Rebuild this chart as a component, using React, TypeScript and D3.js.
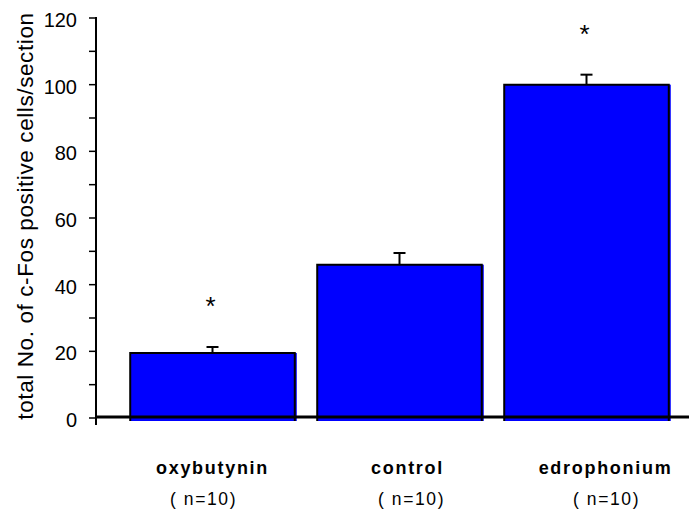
import React, { useEffect, useRef } from 'react';
import * as d3 from 'd3';

const categories = ['oxybutynin', 'control', 'edrophonium'];
const sampleSizes = ['( n=10)', '( n=10)', '( n=10)'];
const means = [19.5, 46, 100];
const errors = [1.8, 3.5, 3];
const significant = [true, false, true];
const yTicks = [0, 20, 40, 60, 80, 100, 120];

/* Draws the c-Fos bar chart */
function BarChart() {
    const svgRef = useRef<SVGSVGElement>(null);
    const width = 689;
    const height = 514;

    useEffect(() => {
        const svg = d3.select(svgRef.current);
        svg.selectAll('*').remove();

        const font = 'Arial, "Liberation Sans", sans-serif';
        const axisX = 96;
        // category labels are not centred exactly under the bars in the original
        const labelShift = [0, 8, 19];
        const countShift = [-9, 12, 20];

        const y = d3.scaleLinear().domain([0, 120]).range([418, 18]);
        const x = d3.scaleBand<string>()
            .domain(categories)
            .range([119, 680])
            .paddingInner(0.12)
            .paddingOuter(0.06);

        // Bars
        const bars = svg.append('g');
        categories.forEach((c, i) => {
            const x0 = x(c)!;
            const w = x.bandwidth();
            const top = y(means[i]);
            bars.append('rect')
                .attr('x', x0)
                .attr('y', top)
                .attr('width', w + 2)
                .attr('height', 421 - top)
                .attr('fill', '#0000ff');
            // outline on left, top, right
            bars.append('path')
                .attr('d', `M${x0},421V${top}H${x0 + w}V421`)
                .attr('fill', 'none')
                .attr('stroke', '#000')
                .attr('stroke-width', 2);

            // error bar
            const cx = x0 + w / 2;
            const eTop = y(means[i] + errors[i]);
            bars.append('line')
                .attr('x1', cx).attr('x2', cx)
                .attr('y1', top).attr('y2', eTop)
                .attr('stroke', '#000').attr('stroke-width', 2);
            bars.append('line')
                .attr('x1', cx - 6).attr('x2', cx + 6)
                .attr('y1', eTop).attr('y2', eTop)
                .attr('stroke', '#000').attr('stroke-width', 2);

            if (significant[i]) {
                svg.append('text')
                    .attr('x', cx - 2)
                    .attr('y', eTop - 32)
                    .attr('text-anchor', 'middle')
                    .style('font-family', font)
                    .style('font-size', '26px')
                    .style('fill', '#000')
                    .text('*');
            }

            svg.append('text')
                .attr('x', cx + labelShift[i])
                .attr('y', 474)
                .attr('text-anchor', 'middle')
                .style('font-family', font)
                .style('font-weight', 'bold')
                .style('font-size', '18px')
                .style('letter-spacing', '1.7px')
                .text(c);
            svg.append('text')
                .attr('x', cx + countShift[i])
                .attr('y', 505)
                .attr('text-anchor', 'middle')
                .style('font-family', font)
                .style('font-size', '17.5px')
                .style('letter-spacing', '1.6px')
                .text(sampleSizes[i]);
        });

        // Baseline
        svg.append('line')
            .attr('x1', axisX).attr('x2', width)
            .attr('y1', y(0) - 1).attr('y2', y(0) - 1)
            .attr('stroke', '#000').attr('stroke-width', 3);

        // Y axis
        const axis = svg.append('g');
        axis.append('line')
            .attr('x1', axisX).attr('x2', axisX)
            .attr('y1', y(120) - 1).attr('y2', 425)
            .attr('stroke', '#000').attr('stroke-width', 2);
        d3.range(0, 121, 10).forEach((v) => {
            axis.append('line')
                .attr('x1', axisX - 7).attr('x2', axisX)
                .attr('y1', y(v)).attr('y2', y(v))
                .attr('stroke', '#000').attr('stroke-width', 1.5);
        });
        yTicks.forEach((v) => {
            axis.append('text')
                .attr('x', 77)
                .attr('y', y(v) + 2)
                .attr('dy', '0.35em')
                .attr('text-anchor', 'end')
                .style('font-family', font)
                .style('font-size', '20px')
                .text(v);
        });

        // Y label
        svg.append('text')
            .attr('transform', 'translate(33, 216) rotate(-90)')
            .attr('text-anchor', 'middle')
            .style('font-family', font)
            .style('font-size', '22.5px')
            .style('letter-spacing', '0.6px')
            .text('total No. of c-Fos positive cells/section');
    }, []);

    return (
        <svg
            ref={svgRef}
            width={width}
            height={height}
            style={{ position: 'absolute', left: 0, top: 0, background: '#fff' }}
        />
    );
}

export default function App() {
    return <BarChart />;
}
